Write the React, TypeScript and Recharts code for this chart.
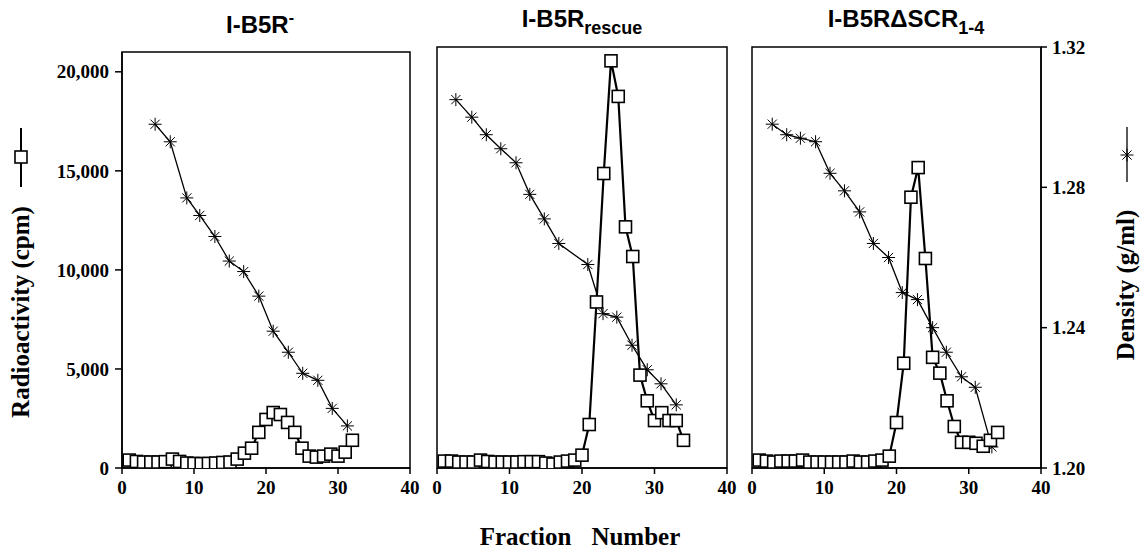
import React from 'react';
import { ComposedChart, Line, XAxis, YAxis, ReferenceArea } from 'recharts';

// ---------- data ----------
const fractionTicks = [0, 10, 20, 30, 40];
const cpmTicks = [0, 5000, 10000, 15000, 20000];
const densityTicks = [1.2, 1.24, 1.28, 1.32];

// Panel 1: I-B5R-
const p1SqFraction = [1, 2, 3, 4, 5, 6, 7, 8, 9, 10, 11, 12, 13, 14, 15, 16, 17, 18, 19, 20, 21, 22, 23, 24, 25, 26, 27, 28, 29, 30, 31, 32];
const p1SqCpm = [400, 330, 300, 300, 300, 320, 450, 330, 250, 230, 220, 230, 250, 280, 300, 450, 750, 1000, 1800, 2450, 2800, 2700, 2300, 1800, 1000, 600, 550, 600, 700, 600, 800, 1400];
const p1StarFraction = [4.6, 6.7, 9.0, 10.8, 12.9, 14.9, 16.9, 19.0, 21.0, 23.1, 25.1, 27.2, 29.2, 31.3];
const p1StarDensity = [1.298, 1.293, 1.277, 1.272, 1.266, 1.259, 1.256, 1.249, 1.239, 1.233, 1.227, 1.225, 1.217, 1.212];

// Panel 2: I-B5R rescue
const p2SqFraction = [1, 2, 3, 4, 5, 6, 7, 8, 9, 10, 11, 12, 13, 14, 15, 16, 17, 18, 19, 20, 21, 22, 23, 24, 25, 26, 27, 28, 29, 30, 31, 32, 33, 34];
const p2SqCpm = [350, 350, 300, 300, 300, 400, 330, 300, 300, 300, 300, 320, 320, 320, 250, 200, 300, 350, 400, 650, 2200, 8400, 14900, 20600, 18800, 12200, 10700, 4700, 3400, 2400, 2800, 2400, 2400, 1400];
const p2StarFraction = [2.6, 4.8, 6.8, 8.8, 10.9, 12.8, 14.8, 16.8, 20.8, 22.9, 24.8, 26.9, 29.0, 30.9, 33.0];
const p2StarDensity = [1.305, 1.3, 1.295, 1.291, 1.287, 1.278, 1.271, 1.264, 1.258, 1.244, 1.243, 1.235, 1.228, 1.224, 1.218];

// Panel 3: I-B5R delta SCR 1-4
const p3SqFraction = [1, 2, 3, 4, 5, 6, 7, 8, 9, 10, 11, 12, 13, 14, 15, 16, 17, 18, 19, 20, 21, 22, 23, 24, 25, 26, 27, 28, 29, 30, 31, 32, 33, 34];
const p3SqCpm = [400, 350, 300, 350, 350, 350, 400, 300, 300, 300, 300, 300, 300, 350, 300, 300, 350, 400, 600, 2300, 5300, 13700, 15200, 10600, 5600, 4800, 3400, 2100, 1300, 1300, 1250, 1100, 1400, 1800];
const p3StarFraction = [2.8, 4.8, 6.7, 8.8, 10.8, 12.8, 14.9, 16.8, 18.9, 20.8, 22.9, 25.0, 26.9, 29.0, 30.9, 33.2];
const p3StarDensity = [1.298, 1.295, 1.294, 1.293, 1.284, 1.279, 1.273, 1.264, 1.26, 1.25, 1.248, 1.24, 1.233, 1.226, 1.223, 1.206];

const DENS_MIN = 1.2;

const zip = (xs: number[], ys: number[]) => xs.map((x, i) => ({ x, y: ys[i] }));

// per-panel frame: left/right pixel edges, plot top, and the value range that frame spans
const panels = [
  { sq: zip(p1SqFraction, p1SqCpm), st: zip(p1StarFraction, p1StarDensity), L: 122, R: 410, top: 52, cpmMax: 21000, densMax: 1.3186, showLeft: true, showRight: false },
  { sq: zip(p2SqFraction, p2SqCpm), st: zip(p2StarFraction, p2StarDensity), L: 437, R: 727, top: 47, cpmMax: 21300, densMax: 1.32, showLeft: false, showRight: false },
  { sq: zip(p3SqFraction, p3SqCpm), st: zip(p3StarFraction, p3StarDensity), L: 752, R: 1041, top: 47, cpmMax: 21300, densMax: 1.32, showLeft: false, showRight: true },
];

// ---------- styles ----------
const W = 1146;
const H = 552;
const BOTTOM = 468;
const SERIF = '"Liberation Serif", "Times New Roman", serif';
const SANS = '"Liberation Sans", Arial, sans-serif';
const axisLine = { stroke: '#000', strokeWidth: 1.5 };

const makeTick = (fmt: (v: number) => string, dy: string) => (p: any) => (
  <text
    key={`t-${p.index}`}
    x={p.x}
    y={p.y}
    dy={dy}
    textAnchor={p.textAnchor}
    fontFamily={SERIF}
    fontWeight="bold"
    fontSize={19}
    fill="#000"
    style={{ fontFamily: SERIF }}
  >
    {fmt(p.payload.value)}
  </text>
);

const xTick = makeTick((v) => String(v), '0.71em');
const cpmTick = makeTick((v) => v.toLocaleString('en-US'), '0.35em');
const densTick = makeTick((v) => v.toFixed(2), '0.35em');

const SquareDot = (p: any) => {
  if (p.cx == null || p.cy == null) return <g key={`sq-${p.index}`} />;
  return (
    <rect key={`sq-${p.index}`} x={p.cx - 6} y={p.cy - 6} width={12} height={12} fill="#fff" stroke="#000" strokeWidth={1.6} />
  );
};

const StarShape = ({ cx, cy, r = 6.5 }: { cx: number; cy: number; r?: number }) => {
  const d = r * 0.7071;
  return (
    <g stroke="#000" strokeWidth={1}>
      <line x1={cx - r} y1={cy} x2={cx + r} y2={cy} />
      <line x1={cx} y1={cy - r} x2={cx} y2={cy + r} />
      <line x1={cx - d} y1={cy - d} x2={cx + d} y2={cy + d} />
      <line x1={cx - d} y1={cy + d} x2={cx + d} y2={cy - d} />
    </g>
  );
};

const StarDot = (p: any) => {
  if (p.cx == null || p.cy == null) return <g key={`st-${p.index}`} />;
  return (
    <g key={`st-${p.index}`}>
      <StarShape cx={p.cx} cy={p.cy} />
    </g>
  );
};

const Panel = ({ cfg }: { cfg: (typeof panels)[number] }) => {
  const leftW = cfg.showLeft ? 60 : 0;
  const rightW = cfg.showRight ? 60 : 0;
  const margin = {
    top: cfg.top,
    bottom: H - BOTTOM - 30,
    left: cfg.L - leftW,
    right: W - cfg.R - rightW,
  };
  return (
    <div style={{ position: 'absolute', left: 0, top: 0 }}>
      <ComposedChart width={W} height={H} margin={margin} style={{ fontFamily: SERIF }}>
        <XAxis
          xAxisId="f"
          dataKey="x"
          type="number"
          domain={[0, 40]}
          ticks={fractionTicks}
          allowDataOverflow
          height={30}
          tick={xTick}
          tickSize={6}
          tickMargin={7}
          axisLine={axisLine}
          tickLine={axisLine}
          interval={0}
        />
        <YAxis
          yAxisId="cpm"
          orientation="left"
          type="number"
          domain={[0, cfg.cpmMax]}
          ticks={cpmTicks}
          allowDataOverflow
          hide={!cfg.showLeft}
          width={leftW}
          tick={cpmTick}
          tickSize={7}
          tickMargin={6}
          axisLine={axisLine}
          tickLine={axisLine}
          interval={0}
        />
        <YAxis
          yAxisId="dens"
          orientation="right"
          type="number"
          domain={[DENS_MIN, cfg.densMax]}
          ticks={densityTicks}
          allowDataOverflow
          hide={!cfg.showRight}
          width={rightW}
          tick={densTick}
          tickSize={6}
          tickMargin={5}
          axisLine={axisLine}
          tickLine={axisLine}
          interval={0}
        />
        <ReferenceArea
          xAxisId="f"
          yAxisId="cpm"
          x1={0}
          x2={40}
          y1={0}
          y2={cfg.cpmMax}
          fill="none"
          fillOpacity={0}
          stroke="#000"
          strokeWidth={1.5}
          ifOverflow="visible"
        />
        <Line
          xAxisId="f"
          yAxisId="dens"
          data={cfg.st}
          dataKey="y"
          type="linear"
          stroke="#000"
          strokeWidth={1.3}
          dot={StarDot}
          activeDot={false}
          isAnimationActive={false}
        />
        <Line
          xAxisId="f"
          yAxisId="cpm"
          data={cfg.sq}
          dataKey="y"
          type="linear"
          stroke="#000"
          strokeWidth={2.2}
          dot={SquareDot}
          activeDot={false}
          isAnimationActive={false}
        />
      </ComposedChart>
    </div>
  );
};

export default function App() {
  return (
    <div style={{ position: 'absolute', left: 0, top: 0, width: W, height: H, background: '#fff', overflow: 'hidden' }}>
      {panels.map((cfg, i) => (
        <Panel key={i} cfg={cfg} />
      ))}
      <svg width={W} height={H} style={{ position: 'absolute', left: 0, top: 0, pointerEvents: 'none' }}>
        {/* titles */}
        <text x={260} y={33} textAnchor="middle" fontFamily={SANS} fontWeight="bold" fontSize={24} fill="#000">
          I-B5R<tspan dy={-10} fontSize={16}>-</tspan>
        </text>
        <text x={582} y={27} textAnchor="middle" fontFamily={SANS} fontWeight="bold" fontSize={24} fill="#000">
          I-B5R<tspan dy={7} fontSize={18}>rescue</tspan>
        </text>
        <text x={906} y={27} textAnchor="middle" fontFamily={SANS} fontWeight="bold" fontSize={24} fill="#000">
          I-B5RΔSCR<tspan dy={7} fontSize={18}>1-4</tspan>
        </text>

        {/* left axis label + legend glyph */}
        <line x1={21} y1={128} x2={21} y2={187} stroke="#000" strokeWidth={2} />
        <rect x={15} y={151} width={12} height={12} fill="#fff" stroke="#000" strokeWidth={1.6} />
        <text transform="translate(29,312) rotate(-90)" textAnchor="middle" fontFamily={SERIF} fontWeight="bold" fontSize={25} fill="#000">
          Radioactivity (cpm)
        </text>

        {/* right axis label + legend glyph */}
        <line x1={1127} y1={127} x2={1127} y2={182} stroke="#000" strokeWidth={1.3} />
        <StarShape cx={1127} cy={155} />
        <text transform="translate(1134,285) rotate(-90)" textAnchor="middle" fontFamily={SERIF} fontWeight="bold" fontSize={25} fill="#000">
          Density (g/ml)
        </text>

        {/* bottom label */}
        <text x={580} y={545} textAnchor="middle" fontFamily={SERIF} fontWeight="bold" fontSize={25} fill="#000">
          Fraction<tspan dx={20}>Number</tspan>
        </text>
      </svg>
    </div>
  );
}
